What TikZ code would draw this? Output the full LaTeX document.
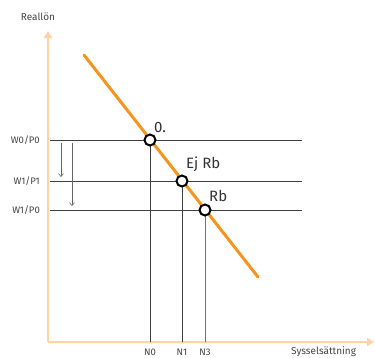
\documentclass[tikz,border=0pt]{standalone}
\usepackage{fontspec}
\setmainfont{Fira Sans}
\usetikzlibrary{arrows.meta}
\definecolor{axisorange}{HTML}{FFD3A6}
\definecolor{lineorange}{HTML}{F7941D}
\definecolor{textgrey}{HTML}{444444}
\begin{document}
\begin{tikzpicture}[x=1pt,y=-1pt,every node/.style={font=\fontsize{9.5}{11}\selectfont,text=textgrey}]
\useasboundingbox (0,0) rectangle (375,357);
\tikzset{
  axis/.style={axisorange,line width=2pt,-{Triangle[width=8pt,length=7pt]}},
  level/.style={black!75,line width=0.8pt},
  dot/.style={circle,draw=black,fill=white,line width=2pt,minimum size=11pt,inner sep=0pt},
  drop/.style={black!60,line width=0.6pt,-{Straight Barb[length=3pt,width=5pt]}},
  pointlabel/.style={font=\fontsize{15}{17}\selectfont,text=black!80,anchor=south west,inner sep=1pt}
}
% Axes
\coordinate (origin) at (48,342);
\coordinate (ytop) at (48,31);
\coordinate (xend) at (374,342);
\draw[axis] (origin) -- (ytop);
\draw[axis] (origin) -- (xend);
\node[font=\fontsize{10}{12}\selectfont] (reallon) at (38,17) {Reallön};
\node[font=\fontsize{10}{12}\selectfont,anchor=west,inner sep=0pt] (syss) at (291,352) {Sysselsättning};
% Demand line
\coordinate (dtop) at (84,55);
\coordinate (dbot) at (258,277);
% Real wage levels and employment levels
\foreach \name/\lab/\yy/\nlab/\xx in {p0/W0\slash P0/140/N0/150,p1/W1\slash P1/181/N1/182,p2/W1\slash P0/210/N3/205}{
  \coordinate (\name l) at (50,\yy);
  \coordinate (\name r) at (302,\yy);
  \coordinate (\name b) at (\xx,342);
  \node[anchor=east,inner sep=0pt] (\name w) at (40,\yy) {\lab};
  \node (\name n) at (\xx,352) {\nlab};
  \draw[level] (\name l) -- (\name r);
}
\draw[level] (150,140) -- (p0b);
\draw[level] (182,181) -- (p1b);
\draw[level,black!55] (205,210) -- (p2b);
\draw[lineorange,line width=3pt,line cap=round] (dtop) -- (dbot);
% Equilibria
\node[dot] (eq0) at (150,140) {};
\node[dot] (eq1) at (182,181) {};
\node[dot] (eq2) at (205,210) {};
\node[pointlabel] (l0) at (153,134) {0.};
\node[pointlabel] (l1) at (185,173) {Ej Rb};
\node[pointlabel] (l2) at (208,203) {Rb};
% Wage drops
\coordinate (a1) at (61,143);
\coordinate (a1e) at (61,177);
\coordinate (a2) at (72,143);
\coordinate (a2e) at (72,206);
\draw[drop] (a1) -- (a1e);
\draw[drop] (a2) -- (a2e);
\end{tikzpicture}
\end{document}
